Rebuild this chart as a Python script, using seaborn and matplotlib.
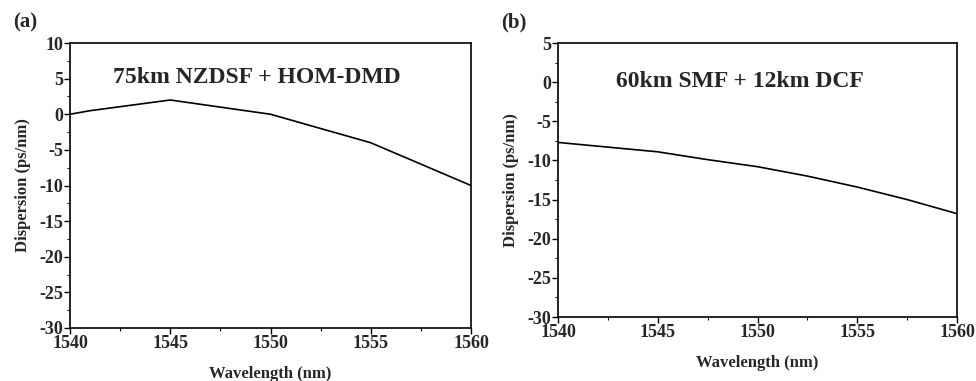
import matplotlib
matplotlib.use("Agg")
import matplotlib.pyplot as plt
import seaborn as sns
import pandas as pd
from matplotlib.ticker import MultipleLocator

# Panel (a): 75 km NZDSF + HOM-DMD link
wl_a = [1540, 1541, 1545, 1550, 1555, 1560]
disp_a = [0.0, 0.5, 2.0, 0.0, -4.0, -10.0]

# Panel (b): 60 km SMF + 12 km DCF link
wl_b = [1540, 1545, 1547.5, 1550, 1552.5, 1555, 1557.5, 1560]
disp_b = [-7.7, -8.9, -9.9, -10.8, -12.0, -13.4, -15.0, -16.8]

labels = ["(a)", "(b)"]
titles = ["75km NZDSF + HOM-DMD", "60km SMF + 12km DCF"]
ylims = [(-30, 10), (-30, 5)]
xticks = [1540, 1545, 1550, 1555, 1560]

sns.set_theme(style="white")
plt.rcParams["font.family"] = ["Liberation Serif", "DejaVu Serif"]
plt.rcParams["font.weight"] = "bold"
plt.rcParams["axes.unicode_minus"] = False

fig = plt.figure(figsize=(9.76, 3.81), dpi=100)
W, H = 976, 381
boxes = [(70, 43, 471, 328), (558, 43, 957, 317)]
title_pos = [(1549.3, 0.88), (1549.1, 0.858)]
frames = [pd.DataFrame({"wl": wl_a, "disp": disp_a}),
          pd.DataFrame({"wl": wl_b, "disp": disp_b})]

for i, (df, box) in enumerate(zip(frames, boxes)):
    x0, y0, x1, y1 = box
    ax = fig.add_axes([x0 / W, 1 - y1 / H, (x1 - x0) / W, (y1 - y0) / H])
    sns.lineplot(data=df, x="wl", y="disp", ax=ax, color="black", linewidth=1.2)
    ax.set_xlim(1540, 1560)
    ax.set_ylim(*ylims[i])
    ax.set_xticks(xticks)
    ax.set_xticklabels([str(t) for t in xticks])
    ax.yaxis.set_major_locator(MultipleLocator(5))
    ax.xaxis.set_minor_locator(MultipleLocator(2.5))
    ax.yaxis.set_minor_locator(MultipleLocator(2.5))
    ax.tick_params(which="major", direction="out", length=4, width=1.0,
                   labelsize=13, pad=1, left=True, bottom=True, color="black")
    ax.tick_params(which="minor", direction="out", length=2, width=0.8,
                   left=True, bottom=True, color="black")
    for lab in ax.get_xticklabels() + ax.get_yticklabels():
        lab.set_fontweight("bold")
    for s in ax.spines.values():
        s.set_color("black")
        s.set_linewidth(1.2)
    ax.set_xlabel("Wavelength (nm)", fontsize=12, fontweight="bold", labelpad=10)
    ax.set_ylabel("Dispersion (ps/nm)", fontsize=12, fontweight="bold", labelpad=6)
    tx, ty = title_pos[i]
    ax.text(tx, ty, titles[i], transform=ax.get_xaxis_transform(), ha="center",
            va="center", fontsize=17, fontweight="bold")
    fig.text((x0 - 57) / W, 1 - 22 / H, labels[i], ha="left", va="center",
             fontsize=15, fontweight="bold")

fig.savefig("out.png", dpi=100)
